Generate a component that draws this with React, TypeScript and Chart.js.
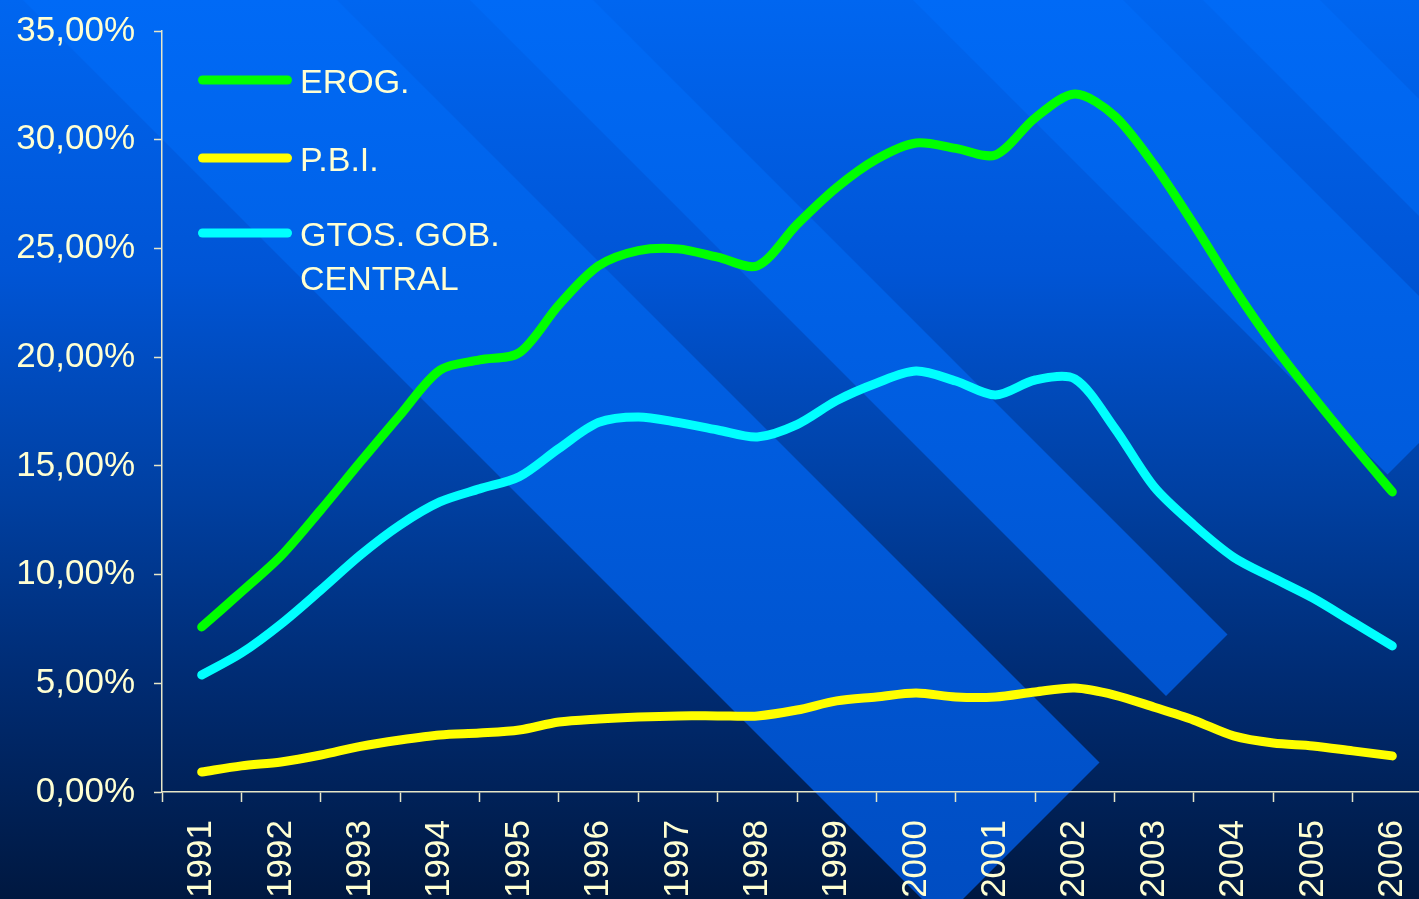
import React, { useEffect, useRef } from 'react';
import { Chart, registerables } from 'chart.js';

Chart.register(...registerables);

// ---- data ----
const yearLabels = ['1991', '1992', '1993', '1994', '1995', '1996', '1997', '1998', '1999', '2000', '2001', '2002', '2003', '2004', '2005', '2006'];
const periods = [1991, 1991.5, 1992, 1992.5, 1993, 1993.5, 1994, 1994.5, 1995, 1995.5, 1996, 1996.5, 1997, 1997.5, 1998, 1998.5, 1999, 1999.5, 2000, 2000.5, 2001, 2001.5, 2002, 2002.5, 2003, 2003.5, 2004, 2004.5, 2005, 2005.5, 2006];
const erog = [7.59, 9.2, 10.86, 12.97, 15.18, 17.34, 19.4, 19.87, 20.2, 22.4, 24.2, 24.9, 24.98, 24.6, 24.2, 26.1, 27.8, 29.1, 29.85, 29.6, 29.3, 31.0, 32.1, 31.1, 28.84, 26.1, 23.2, 20.56, 18.2, 15.96, 13.8];
const pbi = [0.92, 1.2, 1.38, 1.7, 2.1, 2.39, 2.62, 2.71, 2.85, 3.22, 3.36, 3.45, 3.5, 3.5, 3.5, 3.77, 4.19, 4.37, 4.55, 4.37, 4.37, 4.6, 4.78, 4.46, 3.9, 3.3, 2.58, 2.25, 2.12, 1.89, 1.66];
const gtos = [5.38, 6.39, 7.73, 9.29, 10.9, 12.28, 13.34, 13.94, 14.5, 15.8, 17.0, 17.25, 17.0, 16.65, 16.33, 16.9, 18.0, 18.8, 19.36, 18.9, 18.26, 18.95, 19.0, 16.74, 14.03, 12.28, 10.8, 9.84, 8.92, 7.82, 6.72];
const seriesLabels: string[][] = [['EROG.'], ['P.B.I.'], ['GTOS. GOB.', 'CENTRAL']];
const seriesColors = ['#00FF00', '#FFFF00', '#00FFFF'];
const yMin = 0;
const yMax = 35;
const yStep = 5;

// ---- style ----
const FONT = "'Liberation Sans', Arial, sans-serif";
const TEXT = '#FFFFD2';
const AXIS = '#E6E6C8';
const CANVAS_W = 1432;
const CANVAS_H = 899;
const bandEdges: [number, number][] = [[23, 337], [470, 593], [913, 1123], [1203, 1320]];
const bandEnd = 1862;

const bgPlugin = {
  id: 'bgPlugin',
  beforeDraw(chart: any) {
    const { ctx, width, height } = chart;
    ctx.save();
    const g = ctx.createLinearGradient(0, 0, 0, height);
    g.addColorStop(0, '#0066F0');
    g.addColorStop(0.3, '#0055D6');
    g.addColorStop(0.55, '#0040A2');
    g.addColorStop(0.75, '#002C74');
    g.addColorStop(1, '#001840');
    ctx.fillStyle = g;
    ctx.fillRect(0, 0, width, height);
    const bg = ctx.createLinearGradient(0, 0, 0, height);
    bg.addColorStop(0, '#006AF6');
    bg.addColorStop(0.5, '#005CDE');
    bg.addColorStop(1, '#004DC2');
    ctx.fillStyle = bg;
    for (const [a, b] of bandEdges) {
      ctx.beginPath();
      ctx.moveTo(a, 0);
      ctx.lineTo(b, 0);
      ctx.lineTo((bandEnd + b) / 2, (bandEnd - b) / 2);
      ctx.lineTo((bandEnd + a) / 2, (bandEnd - a) / 2);
      ctx.closePath();
      ctx.fill();
    }
    ctx.restore();
  },
};

const legendPlugin = {
  id: 'customLegend',
  afterDraw(chart: any) {
    const { ctx } = chart;
    ctx.save();
    const centers = [80, 158, 233];
    const baselines = [93, 171, 246];
    chart.data.datasets.forEach((ds: any, i: number) => {
      ctx.strokeStyle = ds.borderColor;
      ctx.lineWidth = 9;
      ctx.lineCap = 'round';
      ctx.beginPath();
      ctx.moveTo(202.5, centers[i]);
      ctx.lineTo(287.5, centers[i]);
      ctx.stroke();
      ctx.fillStyle = TEXT;
      ctx.font = `34px ${FONT}`;
      ctx.textBaseline = 'alphabetic';
      ctx.textAlign = 'left';
      seriesLabels[i].forEach((line, j) => {
        ctx.fillText(line, 300, baselines[i] + j * 44);
      });
    });
    ctx.restore();
  },
};

export default function App() {
  const ref = useRef<HTMLCanvasElement | null>(null);
  useEffect(() => {
    if (!ref.current) return;
    const series = [erog, pbi, gtos];
    const tickValues: number[] = [];
    yearLabels.forEach((y) => {
      tickValues.push(Number(y) - 0.5, Number(y));
    });
    tickValues.push(Number(yearLabels[yearLabels.length - 1]) + 0.5);
    const chart = new Chart(ref.current, {
      type: 'line',
      data: {
        datasets: series.map((s, i) => ({
          label: seriesLabels[i].join(' '),
          data: periods.map((x, k) => ({ x, y: s[k] })),
          borderColor: seriesColors[i],
          backgroundColor: seriesColors[i],
          borderWidth: 9,
          borderCapStyle: 'round',
          borderJoinStyle: 'round',
          pointRadius: 0,
          tension: 0.3,
          fill: false,
          clip: 10,
        })),
      },
      options: {
        responsive: false,
        animation: false,
        devicePixelRatio: 1,
        layout: { padding: { top: 31, left: 0, right: 0, bottom: 0 } },
        plugins: { legend: { display: false }, tooltip: { enabled: false } },
        scales: {
          x: {
            type: 'linear',
            min: Number(yearLabels[0]) - 0.5,
            max: Number(yearLabels[yearLabels.length - 1]) + 0.5,
            afterBuildTicks: (scale: any) => {
              scale.ticks = tickValues.map((v) => ({ value: v }));
            },
            afterFit: (scale: any) => {
              scale.height = CANVAS_H - 792;
              scale.paddingLeft = 0;
              scale.paddingRight = 0;
            },
            grid: {
              drawOnChartArea: false,
              drawTicks: true,
              tickLength: 10,
              tickWidth: 1.5,
              tickColor: (c: any) => (c.tick && Number.isInteger(c.tick.value) ? 'rgba(0,0,0,0)' : AXIS),
            },
            border: { display: true, color: AXIS, width: 1.5 },
            ticks: {
              autoSkip: false,
              maxRotation: 90,
              minRotation: 90,
              padding: 18,
              color: TEXT,
              font: { family: FONT, size: 35 },
              callback: (v: any) => (Number.isInteger(v) ? String(v) : ''),
            },
          },
          y: {
            min: yMin,
            max: yMax,
            afterFit: (scale: any) => {
              scale.width = 162;
              scale.paddingTop = 0;
              scale.paddingBottom = 0;
            },
            grid: {
              drawOnChartArea: false,
              drawTicks: true,
              tickLength: 8,
              tickWidth: 1.5,
              tickColor: AXIS,
            },
            border: { display: true, color: AXIS, width: 1.5 },
            ticks: {
              stepSize: yStep,
              padding: 19,
              color: TEXT,
              font: { family: FONT, size: 35 },
              callback: (v: any) => Number(v).toFixed(2).replace('.', ',') + '%',
            },
          },
        },
      },
      plugins: [bgPlugin, legendPlugin],
    } as any);
    return () => chart.destroy();
  }, []);

  return (
    <div style={{ position: 'fixed', left: 0, top: 0, width: 1419, height: 899, overflow: 'hidden', background: '#001840' }}>
      <canvas ref={ref} width={CANVAS_W} height={CANVAS_H} style={{ display: 'block', width: CANVAS_W, height: CANVAS_H }} />
    </div>
  );
}
